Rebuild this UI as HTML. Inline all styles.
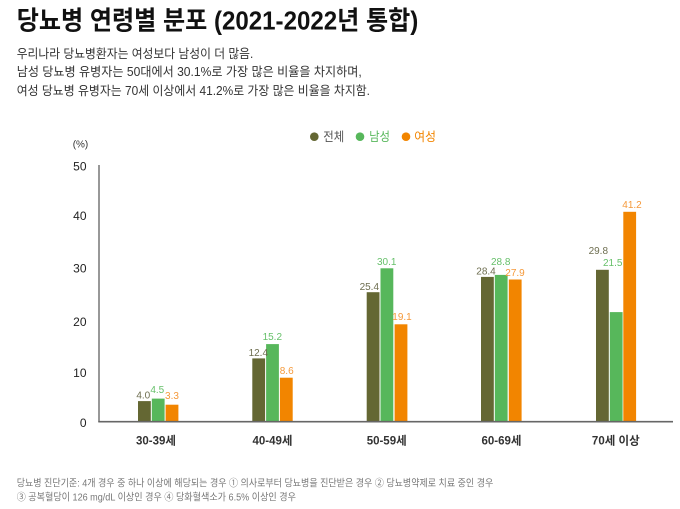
<!DOCTYPE html>
<html>
<head>
<meta charset="utf-8">
<style>
  html, body { margin:0; padding:0; background:#fff; }
  svg { display:block; }
  text { font-family: "Liberation Sans", "Noto Sans CJK KR", "NanumGothic", sans-serif; }
</style>
</head>
<body>
<svg width="680" height="509" viewBox="0 0 680 509" xmlns="http://www.w3.org/2000/svg">
  <rect width="680" height="509" fill="#fff"/>

  <!-- Title -->
  <text x="16.7" y="29.5" font-size="26" font-weight="700" fill="#111" textLength="401.6" lengthAdjust="spacingAndGlyphs">당뇨병 연령별 분포 (2021-2022년 통합)</text>

  <!-- Subtitle -->
  <g font-size="12.5" fill="#333">
    <text x="16.7" y="58" textLength="236.6" lengthAdjust="spacingAndGlyphs">우리나라 당뇨병환자는 여성보다 남성이 더 많음.</text>
    <text x="16.7" y="76" textLength="345" lengthAdjust="spacingAndGlyphs">남성 당뇨병 유병자는 50대에서 30.1%로 가장 많은 비율을 차지하며,</text>
    <text x="16.7" y="95" textLength="353.3" lengthAdjust="spacingAndGlyphs">여성 당뇨병 유병자는 70세 이상에서 41.2%로 가장 많은 비율을 차지함.</text>
  </g>

  <!-- Legend -->
  <circle cx="314.3" cy="136.7" r="4.3" fill="#646733"/>
  <text x="323.3" y="141" font-size="12.5" fill="#555" textLength="21" lengthAdjust="spacingAndGlyphs">전체</text>
  <circle cx="360" cy="136.7" r="4.3" fill="#57b75b"/>
  <text x="369.3" y="141" font-size="12.5" fill="#57b75b" textLength="20.7" lengthAdjust="spacingAndGlyphs">남성</text>
  <circle cx="406" cy="136.7" r="4.3" fill="#f28500"/>
  <text x="414.3" y="141" font-size="12.5" fill="#f28500" textLength="21.7" lengthAdjust="spacingAndGlyphs">여성</text>

  <!-- Y unit -->
  <text x="72.7" y="147.5" font-size="10" fill="#333">(%)</text>

  <!-- Y tick labels -->
  <g font-size="12" fill="#222" text-anchor="end">
    <text x="86.5" y="170.3">50</text>
    <text x="86.5" y="220">40</text>
    <text x="86.5" y="272.6">30</text>
    <text x="86.5" y="326">20</text>
    <text x="86.5" y="377">10</text>
    <text x="86.5" y="427">0</text>
  </g>

  <!-- Bars -->
  <rect x="138" y="401.1" width="12.8" height="20.4" fill="#646733"/>
  <rect x="151.8" y="398.6" width="12.8" height="22.9" fill="#57b75b"/>
  <rect x="165.6" y="404.7" width="12.8" height="16.8" fill="#f28500"/>

  <rect x="252.3" y="358.4" width="12.8" height="63.1" fill="#646733"/>
  <rect x="266.1" y="344.1" width="12.8" height="77.4" fill="#57b75b"/>
  <rect x="279.9" y="377.7" width="12.8" height="43.8" fill="#f28500"/>

  <rect x="366.7" y="292.2" width="12.8" height="129.3" fill="#646733"/>
  <rect x="380.5" y="268.3" width="12.8" height="153.2" fill="#57b75b"/>
  <rect x="394.6" y="324.3" width="12.8" height="97.2" fill="#f28500"/>

  <rect x="481" y="276.9" width="12.8" height="144.6" fill="#646733"/>
  <rect x="494.8" y="274.9" width="12.8" height="146.6" fill="#57b75b"/>
  <rect x="508.8" y="279.5" width="12.8" height="142" fill="#f28500"/>

  <rect x="596" y="269.8" width="12.8" height="151.7" fill="#646733"/>
  <rect x="609.8" y="312.1" width="12.8" height="109.4" fill="#57b75b"/>
  <rect x="623.3" y="211.8" width="12.8" height="209.7" fill="#f28500"/>

  <!-- Axes -->
  <line x1="99" y1="165" x2="99" y2="422" stroke="#777" stroke-width="1.5"/>
  <line x1="98.3" y1="421.7" x2="673" y2="421.7" stroke="#666" stroke-width="1.6"/>

  <!-- Value labels -->
  <g font-size="10" text-anchor="middle">
    <g fill="#6e6e50">
      <text x="143.3" y="398.5">4.0</text>
      <text x="258.3" y="356.2">12.4</text>
      <text x="369.3" y="290.2">25.4</text>
      <text x="486" y="274.5">28.4</text>
      <text x="598.3" y="254.2">29.8</text>
    </g>
    <g fill="#66c06a">
      <text x="157.3" y="392.8">4.5</text>
      <text x="272.3" y="340.2">15.2</text>
      <text x="386.7" y="264.8">30.1</text>
      <text x="500.7" y="265.2">28.8</text>
      <text x="612.7" y="265.8">21.5</text>
    </g>
    <g fill="#f5993a">
      <text x="172" y="399.2">3.3</text>
      <text x="286.7" y="374.2">8.6</text>
      <text x="402" y="320.2">19.1</text>
      <text x="515" y="276.2">27.9</text>
      <text x="632" y="208.2">41.2</text>
    </g>
  </g>

  <!-- Category labels -->
  <g font-size="11.5" font-weight="700" fill="#333" text-anchor="middle">
    <text x="156" y="444.5">30-39세</text>
    <text x="272.5" y="444.5">40-49세</text>
    <text x="386.7" y="444.5">50-59세</text>
    <text x="501.5" y="444.5">60-69세</text>
    <text x="615.8" y="444.5">70세 이상</text>
  </g>

  <!-- Footnote -->
  <g font-size="10" fill="#777">
    <text x="16.7" y="486.3" textLength="476.6" lengthAdjust="spacingAndGlyphs">당뇨병 진단기준: 4개 경우 중 하나 이상에 해당되는 경우 ① 의사로부터 당뇨병을 진단받은 경우 ② 당뇨병약제로 치료 중인 경우</text>
    <text x="16.7" y="500.3" textLength="279.3" lengthAdjust="spacingAndGlyphs">③ 공복혈당이 126 mg/dL 이상인 경우 ④ 당화혈색소가 6.5% 이상인 경우</text>
  </g>
</svg>
</body>
</html>
